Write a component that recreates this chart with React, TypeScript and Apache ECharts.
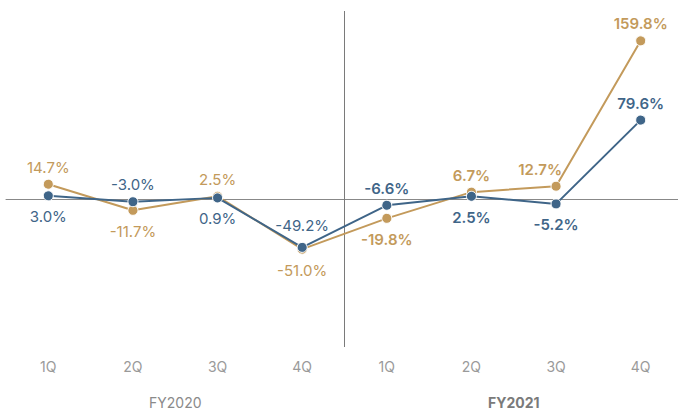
import React, { useEffect, useRef } from "react";
import * as echarts from "echarts";

const categories = ["1Q", "2Q", "3Q", "4Q", "1Q", "2Q", "3Q", "4Q"];
const quarterYear = [0, 0, 0, 0, 1, 1, 1, 1];
const years = ["FY2020", "FY2021"];
const goldValues = [14.7, -11.7, 2.5, -51.0, -19.8, 6.7, 12.7, 159.8];
const blueValues = [3.0, -3.0, 0.9, -49.2, -6.6, 2.5, -5.2, 79.6];
const goldLabelPos = ["top", "bottom", "top", "bottom", "bottom", "top", "top", "top"];
const blueLabelPos = ["bottom", "top", "bottom", "top", "top", "bottom", "bottom", "top"];

const GOLD = "#C39A5B";
const BLUE = "#3F6588";
const FONT = "Inter, Roboto, 'Noto Sans', sans-serif";

function buildData(values: number[], positions: string[], series: string) {
  return values.map((v, i) => {
    const bold = quarterYear[i] === 1;
    const pos = positions[i];
    const label: any = {
      position: pos,
      distance: pos === "top" ? 4 : 8,
      fontWeight: bold ? 600 : "normal",
    };
    if (series === "gold" && i === 6) label.offset = [-16, 0];
    if (series === "blue" && i === 3) label.offset = [0, -5];
    return { value: [i, v], label };
  });
}

const yearCenters = years.map((_, y) => {
  const idx = quarterYear.map((q, i) => (q === y ? i : -1)).filter((i) => i >= 0);
  return (idx[0] + idx[idx.length - 1]) / 2;
});

export default function App() {
  const ref = useRef<HTMLDivElement>(null);
  useEffect(() => {
    if (!ref.current) return;
    const chart = echarts.init(ref.current, undefined, { renderer: "svg" });
    const xMin = -0.5;
    const xMax = categories.length - 0.5;
    const mkSeries = (name: string, values: number[], pos: string[], color: string, z: number) => ({
      name,
      type: "line",
      xAxisIndex: 0,
      yAxisIndex: 0,
      z,
      data: buildData(values, pos, name),
      symbol: "circle",
      symbolSize: 10,
      lineStyle: { color, width: 2 },
      itemStyle: { color, borderColor: "#fff", borderWidth: 1 },
      label: {
        show: true,
        color,
        fontSize: 15,
        fontFamily: FONT,
        formatter: (p: any) => p.value[1].toFixed(1) + "%",
      },
    });
    const gold: any = mkSeries("gold", goldValues, goldLabelPos, GOLD, 3);
    gold.markLine = {
      silent: true,
      symbol: "none",
      label: { show: false },
      lineStyle: { color: "#7a7a7a", width: 1, type: "solid" },
      data: [{ xAxis: (yearCenters[0] + yearCenters[1]) / 2 }],
      z: 1,
    };
    const blue: any = mkSeries("blue", blueValues, blueLabelPos, BLUE, 4);
    chart.setOption({
      animation: false,
      backgroundColor: "#fff",
      grid: { left: 6, width: 677, top: 11, bottom: 62, containLabel: false, outerBoundsMode: "none" },
      xAxis: [
        {
          type: "value",
          min: xMin,
          max: xMax,
          axisLine: { show: true, onZero: true, lineStyle: { color: "#888", width: 1 } },
          axisTick: { show: false },
          axisLabel: { show: false },
          splitLine: { show: false },
        },
        {
          type: "value",
          min: xMin,
          max: xMax,
          interval: 0.5,
          position: "bottom",
          axisLine: { show: false, onZero: false },
          axisTick: { show: false },
          splitLine: { show: false },
          axisLabel: {
            show: true,
            margin: 12,
            color: "#9a9a9a",
            fontSize: 14,
            fontFamily: FONT,
            showMinLabel: true,
            showMaxLabel: true,
            formatter: (v: number) => (Number.isInteger(v) && categories[v] ? categories[v] : ""),
          },
        },
        {
          type: "value",
          min: xMin,
          max: xMax,
          interval: 0.5,
          position: "bottom",
          offset: 36,
          axisLine: { show: false, onZero: false },
          axisTick: { show: false },
          splitLine: { show: false },
          axisLabel: {
            show: true,
            margin: 12,
            color: "#888",
            fontSize: 14,
            fontFamily: FONT,
            formatter: (v: number) => {
              const y = yearCenters.indexOf(v);
              if (y < 0) return "";
              return y === 1 ? "{b|" + years[y] + "}" : "{n|" + years[y] + "}";
            },
            rich: {
              n: { color: "#8a8a8a", fontSize: 14, fontFamily: FONT },
              b: { color: "#7a7a7a", fontSize: 14, fontFamily: FONT, fontWeight: "bold" },
            },
          },
        },
      ],
      yAxis: {
        type: "value",
        min: -150,
        max: 190,
        show: false,
        splitLine: { show: false },
      },
      series: [gold, blue],
    });
    return () => chart.dispose();
  }, []);
  return (
    <div
      ref={ref}
      style={{ position: "absolute", left: 0, top: 0, width: 678, height: 409 }}
    />
  );
}
